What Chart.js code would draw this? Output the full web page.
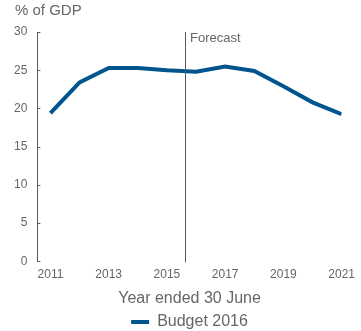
<!DOCTYPE html>
<html>
<head>
<meta charset="utf-8">
<script src="https://cdn.jsdelivr.net/npm/chart.js@4/dist/chart.umd.min.js"></script>
<style>
  html, body { margin: 0; padding: 0; background: #fff; }
  #wrap { width: 361px; height: 331px; }
</style>
</head>
<body>
<div id="wrap"><canvas id="debtChart"></canvas></div>
<script>
const years = [2011, 2012, 2013, 2014, 2015, 2016, 2017, 2018, 2019, 2020, 2021];
const budget2016 = [19.4, 23.4, 25.3, 25.3, 25.0, 24.8, 25.5, 24.9, 22.9, 20.8, 19.25];
const xTickYears = [2011, 2013, 2015, 2017, 2019, 2021];
const yTickValues = [0, 5, 10, 15, 20, 25, 30];
const forecastFrom = 2015.63;

const fontFamily = '"Liberation Sans", Arial, sans-serif';
const textGrey = '#666666';
const axisGrey = '#595959';
const lineBlue = '#00558f';

// unit label over the y axis, forecast marker, and the short inward y ticks
const annotations = {
  id: 'annotations',
  afterDraw(chart) {
    const { ctx } = chart;
    ctx.save();
    ctx.fillStyle = textGrey;
    ctx.font = '15px ' + fontFamily;
    ctx.textBaseline = 'middle';
    ctx.textAlign = 'left';
    ctx.fillText('% of GDP', 15, 11);
    ctx.restore();
  },
  afterDatasetsDraw(chart) {
    const { ctx, chartArea, scales } = chart;
    const x = Math.round(scales.x.getPixelForValue(forecastFrom)) + 0.5;
    ctx.save();
    ctx.strokeStyle = axisGrey;
    ctx.lineWidth = 1;
    ctx.beginPath();
    ctx.moveTo(x, chartArea.top);
    ctx.lineTo(x, chartArea.bottom + 1);
    ctx.stroke();

    ctx.fillStyle = textGrey;
    ctx.font = '13px ' + fontFamily;
    ctx.textBaseline = 'middle';
    ctx.fillText('Forecast', x + 4.5, chartArea.top + 6);

    const ax = scales.y.right;
    ctx.beginPath();
    for (const t of scales.y.ticks) {
      const y = Math.round(scales.y.getPixelForValue(t.value)) + 0.5;
      ctx.moveTo(ax, y);
      ctx.lineTo(ax + 3, y);
    }
    ctx.stroke();
    ctx.restore();
  }
};

const ctx = document.getElementById('debtChart').getContext('2d');
new Chart(ctx, {
  type: 'line',
  data: {
    datasets: [{
      label: 'Budget 2016',
      data: years.map((yr, i) => ({ x: yr, y: budget2016[i] })),
      borderColor: lineBlue,
      backgroundColor: lineBlue,
      borderWidth: 4,
      pointRadius: 0,
      tension: 0
    }]
  },
  options: {
    responsive: true,
    maintainAspectRatio: false,
    animation: false,
    // the legend box keeps 10px of blank space under itself, hence the negative bottom
    layout: { padding: { left: 4, right: 8, top: 32, bottom: -9 } },
    plugins: {
      legend: {
        position: 'bottom',
        fullSize: false,
        labels: {
          color: textGrey,
          font: { family: fontFamily, size: 16 },
          boxWidth: 18,
          boxHeight: 4,
          padding: 3,
          generateLabels: chart => chart.data.datasets.map((ds, i) => ({
            text: ds.label,
            fillStyle: ds.borderColor,
            strokeStyle: ds.borderColor,
            lineWidth: 0,
            fontColor: textGrey,
            datasetIndex: i
          }))
        }
      },
      tooltip: { enabled: false }
    },
    scales: {
      x: {
        type: 'linear',
        min: 2010.55,
        max: 2021,
        afterBuildTicks: axis => { axis.ticks = xTickYears.map(v => ({ value: v })); },
        grid: { display: false, drawTicks: false },
        border: { display: false },
        ticks: {
          color: textGrey,
          font: { family: fontFamily, size: 12 },
          padding: 6,
          maxRotation: 0,
          callback: v => String(v)
        },
        title: {
          display: true,
          text: 'Year ended 30 June',
          color: textGrey,
          font: { family: fontFamily, size: 16 },
          padding: { top: 1, bottom: 3 }
        }
      },
      y: {
        min: 0,
        max: 30,
        afterBuildTicks: axis => { axis.ticks = yTickValues.map(v => ({ value: v })); },
        grid: { display: false, drawTicks: false },
        border: { display: true, color: axisGrey, width: 1 },
        ticks: {
          color: textGrey,
          font: { family: fontFamily, size: 12 },
          padding: 10
        }
      }
    }
  },
  plugins: [annotations]
});
</script>
</body>
</html>
